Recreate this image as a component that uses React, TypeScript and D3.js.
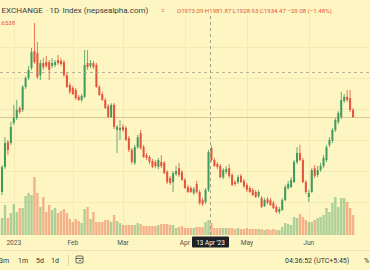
import React from "react";
import * as d3 from "d3";

const W = 370;
const H = 270;

const opens = [1831,1912,1992,1989,2054,2070,2102,2096,2170,2199,2231,2286,2279,2208,2247,2250,2250,2238,2241,2257,2254,2250,2208,2176,2167,2160,2138,2128,2138,2247,2238,2247,2241,2170,2147,2128,2108,2073,2112,2031,2031,2041,2038,2005,1967,1925,1976,2021,1976,1950,1944,1931,1928,1912,1928,1925,1896,1876,1863,1889,1908,1896,1870,1847,1844,1828,1857,1831,1805,1799,1838,1973.09,1934,1921,1915,1879,1896,1908,1886,1863,1863,1883,1867,1854,1844,1838,1831,1818,1812,1786,1808,1805,1796,1783,1767,1773,1805,1844,1847,1863,1928,1957,1934,1863,1815,1831,1908,1886,1902,1915,1934,1983,1996,2031,2057,2073,2125,2138,2134,2096];
const highs = [1918,2008,1999,2057,2112,2128,2108,2176,2205,2238,2296,2376,2315,2257,2263,2270,2257,2263,2257,2273,2263,2257,2215,2183,2173,2167,2144,2147,2289,2289,2257,2254,2247,2176,2154,2134,2115,2118,2118,2047,2063,2050,2044,2012,1973,1983,2015,2031,1983,1957,1950,1938,1934,1941,1950,1931,1902,1883,1899,1915,1925,1902,1876,1854,1850,1847,1867,1838,1812,1844,1967,1981.87,1941,1928,1921,1908,1915,1921,1892,1870,1886,1889,1873,1860,1850,1844,1838,1838,1818,1812,1815,1812,1802,1789,1783,1812,1854,1867,1879,1934,1976,1983,1941,1870,1838,1908,1918,1915,1925,1950,1983,2008,2038,2070,2092,2154,2147,2160,2160,2102];
const lows = [1821,1905,1950,1983,2047,2063,2083,2089,2163,2192,2225,2244,2196,2192,2225,2231,2192,2231,2234,2241,2238,2202,2167,2147,2144,2128,2125,2121,2134,2225,2231,2228,2167,2141,2125,2099,2070,2070,2034,1957,1999,2025,1996,1960,1921,1918,1970,1967,1941,1934,1921,1908,1908,1905,1908,1889,1857,1854,1831,1883,1879,1867,1841,1828,1828,1821,1825,1789,1786,1792,1831,1928.93,1912,1905,1876,1873,1889,1876,1850,1850,1857,1860,1844,1831,1828,1818,1812,1812,1779,1783,1792,1786,1776,1763,1760,1770,1802,1838,1844,1860,1921,1931,1860,1825,1799,1828,1876,1879,1896,1908,1928,1976,1989,2025,2050,2067,2118,2121,2089,2070];
const closes = [1912,1989,1967,2041,2070,2096,2089,2170,2199,2225,2283,2250,2202,2247,2234,2238,2225,2247,2250,2247,2244,2208,2170,2154,2147,2134,2128,2141,2241,2234,2247,2234,2170,2144,2128,2102,2073,2112,2041,2041,2038,2031,1999,1967,1928,1976,2008,1973,1944,1941,1928,1912,1915,1934,1915,1892,1863,1860,1892,1899,1886,1870,1844,1831,1831,1841,1831,1796,1792,1838,1960,1934.47,1915,1912,1879,1902,1905,1883,1854,1857,1879,1863,1850,1838,1831,1821,1815,1831,1783,1805,1796,1789,1779,1767,1776,1805,1847,1857,1870,1928,1957,1934,1863,1831,1828,1902,1883,1902,1915,1941,1976,1999,2031,2063,2086,2128,2138,2128,2096,2073];
const volumes = [1.7,3.0,1.7,2.2,3.1,2.3,2.7,2.7,3.9,4.2,4.0,5.8,4.2,2.8,3.8,2.3,3.0,2.5,2.7,2.2,2.4,2.6,2.2,1.6,1.3,1.6,1.4,1.2,2.6,2.8,1.6,2.3,1.3,1.3,1.3,1.5,1.5,1.3,2.0,1.4,1.2,1.0,1.0,1.0,1.0,1.0,1.2,1.1,0.9,0.9,0.9,0.9,0.9,1.0,1.1,1.1,1.1,1.0,1.0,0.7,0.8,0.9,0.7,0.7,0.7,0.7,0.8,0.8,0.8,1.3,1.5,1.2,0.7,0.7,0.7,0.7,0.7,0.7,0.7,0.6,0.7,0.6,0.6,0.7,0.6,0.6,0.6,0.6,0.6,0.5,0.6,0.5,0.6,0.5,0.5,0.8,1.2,1.1,1.0,1.8,1.7,2.1,1.8,1.5,1.3,1.3,1.5,1.7,1.8,2.0,2.7,2.3,3.2,3.8,2.8,3.7,3.7,3.3,2.7,2.0];

const monthLabels = ["2023", "Feb", "Mar", "Apr", "May", "Jun"];
const monthIndex = [4, 24, 41, 62, 83, 104];
const gridPrices = [1800, 1900, 2000, 2100, 2200, 2300];
const crosshairIndex = 71;
const crosshairPrice = 2218;
const crosshairLabel = "13 Apr '23";
const legendTitle = ["EXCHANGE", "1D", "Index (nepsealpha.com)"];
const legendValues = "O1973.09 H1981.87 L1928.93 C1934.47 \u221229.08 (\u22121.48%)";
const subLegend = ".6538";
const ranges = ["3m", "1m", "5d", "1d"];
const clock = "04:36:52 (UTC+5:45)";

const BG = "#fdf6c3";
const UP = "#3f9a5e";
const DOWN = "#e4533c";
const FONT = "Roboto, 'Liberation Sans', sans-serif";

export default function App() {
  const n = closes.length;
  const x = d3.scaleLinear().domain([0, n - 1]).range([2, 353.05]);
  const y = d3.scaleLinear().domain([1700, 2400]).range([232.63, 15.63]);
  const vy = d3.scaleLinear().domain([0, 6]).range([235, 175]);
  const bw = 2;
  const lastY = Math.round(y(closes[n - 1])) + 0.5;
  const cx = Math.round(x(crosshairIndex)) - 0.5;
  const cy = Math.round(y(crosshairPrice)) + 0.5;

  return (
    <svg width={W} height={H} style={{ display: "block", position: "absolute", left: 0, top: 0 }} fontFamily={FONT}>
      <rect x={0} y={0} width={W} height={H} fill={BG} />
      {gridPrices.map((p) => (
        <line key={p} x1={0} x2={W} y1={Math.round(y(p)) + 0.5} y2={Math.round(y(p)) + 0.5} stroke="#f3eab6" strokeWidth={1} />
      ))}
      {monthIndex.map((i) => (
        <line key={i} x1={Math.round(x(i)) + 0.5} x2={Math.round(x(i)) + 0.5} y1={15} y2={235} stroke="#f3eab6" strokeWidth={1} />
      ))}
      {volumes.map((v, i) => {
        const up = closes[i] >= opens[i];
        return (
          <rect key={"v" + i} x={x(i) - 1.2} width={2.4} y={vy(v)} height={vy(0) - vy(v)} fill={up ? UP : DOWN} opacity={0.42} />
        );
      })}
      <line x1={0} x2={W} y1={lastY} y2={lastY} stroke="#d9c591" strokeWidth={1} />
      {closes.map((c, i) => {
        const o = opens[i];
        const up = c >= o;
        const col = up ? UP : DOWN;
        const top = y(Math.max(o, c));
        const bot = y(Math.min(o, c));
        return (
          <g key={"c" + i}>
            <line x1={x(i)} x2={x(i)} y1={y(highs[i])} y2={y(lows[i])} stroke={col} strokeWidth={0.8} />
            <rect x={x(i) - bw / 2} width={bw} y={top} height={Math.max(1, bot - top)} fill={col} />
          </g>
        );
      })}
      <line x1={cx} x2={cx} y1={16} y2={236} stroke="#8e8a78" strokeWidth={0.8} strokeDasharray="3,3" />
      <line x1={0} x2={W} y1={cy} y2={cy} stroke="#a8a38c" strokeWidth={0.8} strokeDasharray="3,3" />
      <text y={12.5} fontSize={8} fill="#3a3a3a">
        <tspan x={1.5}>{legendTitle[0]}</tspan>
        <tspan x={46} fill="#999">·</tspan>
        <tspan x={49.5}>{legendTitle[1]}</tspan>
        <tspan x={58.5} fill="#999">·</tspan>
        <tspan x={62.5}>{legendTitle[2]}</tspan>
      </text>
      <text x={161} y={12.5} fontSize={7} fill={DOWN}>=</text>
      <text x={177} y={12.5} fontSize={6.1} fill={DOWN}>{legendValues}</text>
      <text x={0} y={24.5} fontSize={6} fill={DOWN}>{subLegend}</text>
      <line x1={0} x2={W} y1={250.5} y2={250.5} stroke="#ebe2b2" strokeWidth={1} />
      {monthLabels.map((m, k) => (
        <text key={m} x={x(monthIndex[k])} y={244.5} fontSize={6.6} fill="#555" textAnchor="middle">{m}</text>
      ))}
      <rect x={cx - 18.5} y={236.5} width={37} height={11} rx={1} fill="#1e2028" />
      <text x={cx} y={244.6} fontSize={6.4} fill="#fff" textAnchor="middle">{crosshairLabel}</text>
      {ranges.map((r, k) => (
        <text key={r} x={[-1, 18, 36, 51][k]} y={263} fontSize={7} fill="#333">{r}</text>
      ))}
      <line x1={68.5} x2={68.5} y1={255} y2={266} stroke="#e0d7a8" />
      <g stroke="#444" strokeWidth={0.8} fill="none">
        <rect x={76} y={256} width={7} height={7} rx={1} />
        <line x1={76} x2={83} y1={258.5} y2={258.5} />
        <path d="M78.5 261.5 L80 260 L81.5 261.5" />
      </g>
      <text x={285} y={263} fontSize={7} fill="#333">{clock}</text>
      <text x={364} y={263} fontSize={7} fill="#333">%</text>
    </svg>
  );
}
